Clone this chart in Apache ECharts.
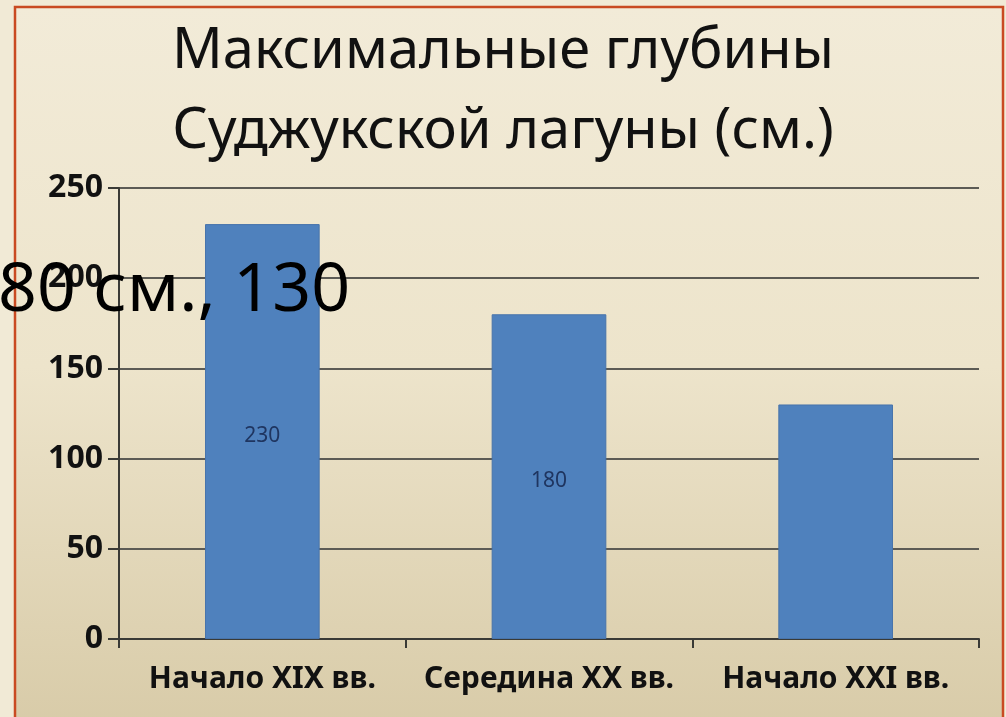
<!DOCTYPE html>
<html>
<head>
<meta charset="utf-8">
<script src="https://cdn.jsdelivr.net/npm/echarts@6/dist/echarts.min.js"></script>
<style>
  html, body { margin: 0; padding: 0; background: #f1ead6; }
  #chart { width: 1006px; height: 717px; }
</style>
</head>
<body>
<div id="chart"></div>
<script>
// Chart data
const titleLines = ['Максимальные глубины', 'Суджукской лагуны (см.)'];
const categories = ['Начало XIX вв.', 'Середина XX вв.', 'Начало XXI вв.'];
const depths = [230, 180, 130];
const yTicks = { min: 0, max: 250, step: 50 };
const overflowLabel = '80 см., ' + depths[2];

const chart = echarts.init(document.getElementById('chart'), null, { renderer: 'canvas' });
const FONT = '"Noto Sans", "DejaVu Sans", sans-serif';

chart.setOption({
  backgroundColor: '#f1ead6',
  animation: false,
  title: {
    text: titleLines.join('\n'),
    left: 'center',
    top: 7,
    textStyle: {
      fontFamily: FONT,
      fontSize: 56,
      fontWeight: 'normal',
      color: '#111',
      lineHeight: 80
    }
  },
  graphic: [
    {
      type: 'rect',
      z: -10,
      silent: true,
      shape: { x: 15, y: 7, width: 988, height: 720 },
      style: {
        fill: {
          type: 'linear', x: 0, y: 0, x2: 0, y2: 1,
          colorStops: [
            { offset: 0, color: '#f2ebd8' },
            { offset: 0.5, color: '#ede4cb' },
            { offset: 1, color: '#d8cba8' }
          ]
        },
        stroke: '#c94a22',
        lineWidth: 2.5
      }
    },
    {
      // third bar's value label, drawn oversized at the left edge
      type: 'text',
      z: 100,
      left: -2,
      top: 258,
      silent: true,
      style: {
        text: overflowLabel,
        fontFamily: FONT,
        fontSize: 68,
        fill: '#000'
      }
    }
  ],
  grid: { left: 119, right: 27, top: 188, bottom: 78, containLabel: false },
  xAxis: {
    type: 'category',
    data: categories,
    axisLine: { show: true, lineStyle: { color: '#3a3a36', width: 2 } },
    axisTick: { show: true, length: 9, interval: 0, alignWithLabel: false, lineStyle: { color: '#3a3a36', width: 2 } },
    axisLabel: {
      interval: 0,
      hideOverlap: false,
      margin: 25,
      fontFamily: FONT,
      fontSize: 30,
      fontWeight: 'bold',
      color: '#111'
    }
  },
  yAxis: {
    type: 'value',
    min: yTicks.min,
    max: yTicks.max,
    interval: yTicks.step,
    axisLine: { show: true, lineStyle: { color: '#3a3a36', width: 2 } },
    axisTick: { show: true, length: 11, lineStyle: { color: '#3a3a36', width: 2 } },
    splitLine: { show: true, lineStyle: { color: '#5c5b55', width: 2 } },
    axisLabel: {
      margin: 16,
      fontFamily: FONT,
      fontSize: 32,
      fontWeight: 'bold',
      color: '#111'
    }
  },
  series: [{
    type: 'bar',
    data: depths.map((v, i) => ({
      value: v,
      label: { show: i < 2 }
    })),
    barWidth: '40%',
    itemStyle: { color: '#4f81bd', borderColor: '#4874ab', borderWidth: 1 },
    label: {
      show: true,
      position: 'inside',
      offset: [0, 4],
      fontFamily: FONT,
      fontSize: 21,
      color: '#1f3560'
    }
  }]
});
</script>
</body>
</html>
